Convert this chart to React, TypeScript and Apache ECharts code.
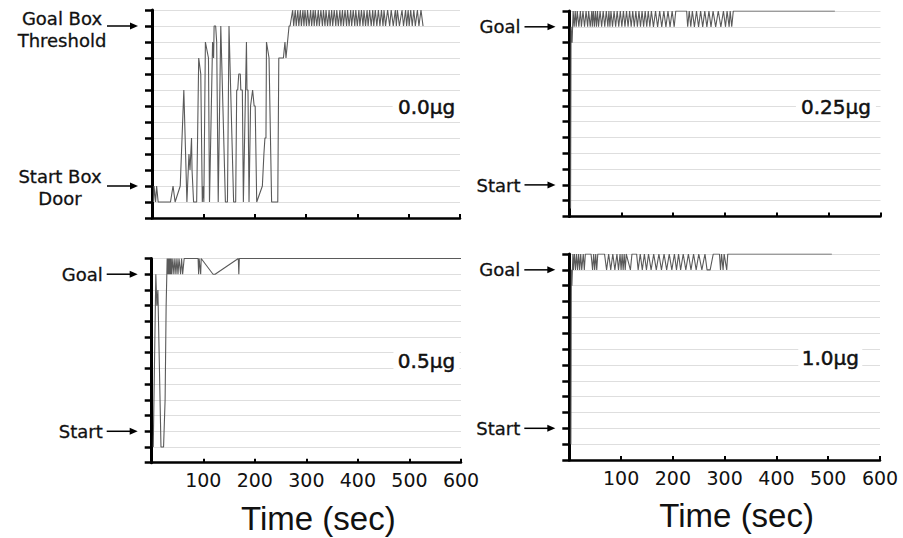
import React, { useEffect, useRef } from "react";
import * as echarts from "echarts";

// ---------- data ----------
const X_MIN = 0;
const X_MAX = 600;
const X_STEP = 100;
const Y_LEVELS = 13;
const GOAL_LEVEL = 12;
const START_LEVEL = 2;
const DOSE_LABELS = ["0.0μg", "0.25μg", "0.5μg", "1.0μg"];
const GOAL_LABELS = ["Goal Box\nThreshold", "Goal", "Goal", "Goal"];
const START_LABELS = ["Start Box\nDoor", "Start", "Start", "Start"];
const X_TITLE = "Time (sec)";

// [time (sec), position level]
const dose00: number[][] = [
  [3, 1], [4, 2], [7, 1], [9, 2], [12, 1], [36, 1], [41, 2], [45, 1], [55, 2], [62, 8],
  [68, 1], [72, 4], [74, 3], [77, 5], [78, 3], [81, 1], [87, 1], [91, 10], [95, 9], [98, 1],
  [100, 2], [101, 1], [104, 11], [110, 10], [112, 1], [118, 11], [120, 10], [121, 12], [124, 12], [126, 11],
  [129, 1], [134, 12], [143, 1], [147, 1], [150, 12], [159, 1], [163, 1], [165, 8], [167, 8], [169, 9],
  [172, 9], [173, 8], [176, 8], [178, 1], [184, 11], [185, 8], [187, 8], [189, 1], [192, 7], [196, 8],
  [199, 7], [201, 7], [204, 1], [215, 2], [218, 4], [220, 5], [222, 5], [223, 11], [228, 10], [233, 1],
  [245, 1], [247, 10], [256, 10], [259, 11], [261, 10], [264, 11], [267, 12], [269, 12], [274, 13],
  [276, 12], [279, 13], [281, 12], [284, 13], [286, 12], [289, 13], [291, 12], [294, 13], [296, 12], [298, 13],
  [301, 12], [303, 13], [306, 12], [309, 13], [311, 12], [314, 13], [316, 12], [318, 13], [321, 12], [324, 13],
  [326, 12], [329, 13], [332, 12], [334, 13], [337, 12], [339, 13], [342, 12], [345, 13], [347, 12], [350, 13],
  [352, 12], [355, 13], [358, 12], [360, 13], [363, 12], [366, 13], [368, 12], [371, 13], [373, 12], [376, 13],
  [379, 12], [381, 13], [384, 12], [387, 13], [389, 12], [392, 13], [395, 12], [397, 13], [400, 12], [403, 13],
  [405, 12], [408, 13], [411, 12], [413, 13], [416, 12], [419, 13], [421, 12], [424, 13], [427, 12], [430, 13],
  [432, 12], [435, 13], [438, 12], [441, 13], [444, 12], [447, 13], [450, 12], [452, 13], [455, 12], [459, 13],
  [463, 12], [466, 13], [470, 12], [474, 13], [476, 12], [478, 13], [482, 12], [487, 13], [490, 12], [494, 13],
  [496, 12], [499, 13], [501, 12], [504, 13], [507, 12], [510, 13], [513, 12], [517, 13], [520, 12], [524, 13],
  [528, 12],
];

const dose025: number[][] = [
  [2, 0.5], [3, 12], [5, 11], [7, 13], [9, 12], [11, 13], [13, 12], [15, 13], [18, 12], [21, 13],
  [23, 12], [26, 13], [29, 12], [32, 13], [35, 12], [37, 13], [40, 12], [43, 13], [44, 12], [46, 13],
  [48, 12], [50, 13], [52, 12], [54, 13], [56, 12], [59, 13], [62, 12], [65, 13], [68, 12], [71, 13],
  [74, 12], [76, 13], [78, 12], [80, 13], [83, 12], [86, 13], [89, 12], [92, 13], [95, 12], [98, 13],
  [101, 12], [104, 13], [107, 12], [110, 13], [113, 12], [116, 13], [119, 12], [122, 13], [125, 12], [128, 13],
  [131, 12], [134, 13], [137, 12], [140, 13], [143, 12], [146, 13], [149, 12], [152, 13], [155, 12], [158, 13],
  [162, 12], [166, 13], [170, 12], [174, 13], [178, 12], [182, 13], [186, 12], [190, 13], [194, 12], [198, 13],
  [202, 12], [205, 13], [226, 13], [228, 12], [231, 13], [234, 12], [237, 13], [241, 12], [245, 13], [249, 12],
  [253, 13], [257, 12], [261, 13], [265, 12], [269, 13], [273, 12], [277, 13], [282, 12], [287, 13], [292, 12],
  [297, 13], [301, 12], [304, 13], [308, 12], [310, 13], [313, 12], [316, 13], [512, 13],
];

const dose05: number[][] = [
  [3, 1], [8, 12], [10, 10], [12, 11], [18, 1], [23, 1], [26, 4], [28, 10], [30, 13], [31, 12],
  [32, 13], [33, 12], [34, 13], [35, 12], [36, 13], [37, 12], [38, 13], [39, 12], [41, 13], [43, 12],
  [45, 13], [47, 12], [49, 13], [51, 12], [53, 13], [56, 12], [58, 13], [60, 12], [63, 13], [90, 13],
  [91, 12], [92, 13], [95, 12], [96, 13], [97, 13], [119, 12], [123, 12], [168, 13], [169, 12], [170, 13],
  [600, 13],
];

const dose10: number[][] = [
  [3, 1], [4, 12], [5, 11], [7, 13], [8, 12], [10, 13], [12, 12], [14, 13], [16, 12], [18, 13],
  [20, 12], [22, 13], [24, 12], [27, 13], [29, 12], [31, 13], [42, 13], [45, 12], [47, 13], [49, 12],
  [51, 13], [53, 12], [55, 13], [68, 13], [72, 12], [76, 13], [80, 12], [84, 13], [88, 12], [92, 13],
  [95, 12], [98, 13], [100, 12], [102, 13], [104, 12], [106, 13], [108, 12], [110, 13], [118, 12], [121, 13],
  [130, 13], [133, 12], [137, 13], [141, 12], [145, 13], [149, 12], [153, 13], [158, 12], [163, 13], [168, 12],
  [173, 13], [178, 12], [183, 13], [188, 12], [193, 13], [198, 12], [203, 13], [207, 12], [211, 13], [215, 12],
  [220, 13], [225, 12], [230, 13], [235, 12], [240, 13], [245, 12], [250, 13], [256, 12], [262, 13], [266, 12],
  [272, 12], [278, 13], [290, 13], [292, 12], [294, 13], [297, 12], [299, 13], [304, 12], [306, 13], [507, 13],
];

const SERIES_DATA = [dose00, dose025, dose05, dose10];

// ---------- layout ----------
const GRIDS = [
  { left: 152, top: 10, width: 308, height: 208 },
  { left: 569.5, top: 11, width: 311, height: 205.5 },
  { left: 151.7, top: 258.5, width: 309.3, height: 204.2 },
  { left: 569.3, top: 254, width: 310.7, height: 206 },
];
const DOSE_POS = [[535, 6.94], [514, 6.9], [533, 6.5], [504, 6.45]];
const DOSE_BOX_W = [68, 80, 66, 64];
const SHOW_X_LABELS = [false, false, true, true];

const LINE_COLOR = "#5a5a5a";
const GRID_COLOR = "#dedede";
const TEXT_FONT = "DejaVu Sans";

export default function App() {
  const ref = useRef<HTMLDivElement>(null);
  useEffect(() => {
    if (!ref.current) return;
    const chart = echarts.init(ref.current, null, { renderer: "svg" });
    const option: any = {
      animation: false,
      backgroundColor: "#fff",
      grid: GRIDS.map((g) => ({ ...g, containLabel: false })),
      xAxis: GRIDS.map((_, i) => ({
        type: "value",
        gridIndex: i,
        min: X_MIN,
        max: X_MAX,
        interval: X_STEP,
        axisLine: { show: true, lineStyle: { color: "#000", width: 2.5 } },
        axisTick: { show: true, inside: true, length: 4, lineStyle: { color: "#000", width: 2 } },
        axisLabel: {
          show: SHOW_X_LABELS[i],
          margin: 8,
          fontFamily: TEXT_FONT,
          fontSize: 19,
          color: "#111",
          formatter: (v: number) => (v === 0 ? "" : String(v)),
        },
        splitLine: { show: false },
        name: SHOW_X_LABELS[i] ? X_TITLE : "",
        nameLocation: "middle",
        nameGap: 39,
        nameTextStyle: {
          fontFamily: "Liberation Sans",
          fontSize: 33,
          color: "#111",
          padding: [0, 0, 0, 24],
        },
      })),
      yAxis: GRIDS.map((_, i) => ({
        type: "value",
        gridIndex: i,
        min: 0,
        max: Y_LEVELS,
        interval: 1,
        axisLine: { show: true, lineStyle: { color: "#000", width: 3 } },
        axisTick: { show: true, inside: false, length: 7, lineStyle: { color: "#000", width: 2.5 } },
        axisLabel: { show: false },
        splitLine: { show: true, lineStyle: { color: GRID_COLOR, width: 1 } },
      })),
      series: SERIES_DATA.map((d, i) => ({
        type: "line",
        xAxisIndex: i,
        yAxisIndex: i,
        data: d,
        showSymbol: false,
        symbol: "none",
        lineStyle: { color: LINE_COLOR, width: 1.1 },
        z: 3,
      })),
    };
    chart.setOption(option);

    const graphics: any[] = [];
    for (let i = 0; i < 4; i++) {
      const gp = chart.convertToPixel({ gridIndex: i }, [0, GOAL_LEVEL]) as number[];
      const sp = chart.convertToPixel({ gridIndex: i }, [0, START_LEVEL]) as number[];
      const ax = gp[0];
      const multi = i === 0;
      const rows = [
        { y: gp[1], text: GOAL_LABELS[i], dy: multi ? 3.5 : 0, cx: -90 },
        { y: sp[1], text: START_LABELS[i], dy: multi ? 1 : 0.5, cx: -92 },
      ];
      rows.forEach((r) => {
        graphics.push({
          type: "text",
          x: multi ? ax + r.cx : ax - 49,
          y: r.y + r.dy,
          z: 100,
          silent: true,
          style: {
            text: r.text,
            fill: "#111",
            fontFamily: TEXT_FONT,
            fontSize: 18,
            lineHeight: 22,
            align: multi ? "center" : "right",
            verticalAlign: "middle",
            stroke: "#111",
            lineWidth: 0.3,
          },
        });
        graphics.push({
          type: "line",
          z: 100,
          silent: true,
          shape: { x1: ax - 45, y1: r.y, x2: ax - 20, y2: r.y },
          style: { stroke: "#000", lineWidth: 1.5 },
        });
        graphics.push({
          type: "polygon",
          z: 100,
          silent: true,
          shape: { points: [[ax - 14, r.y], [ax - 22, r.y - 3.5], [ax - 22, r.y + 3.5]] },
          style: { fill: "#000" },
        });
      });
      const dp = chart.convertToPixel({ gridIndex: i }, DOSE_POS[i]) as number[];
      graphics.push({
        type: "rect",
        z: 100,
        silent: true,
        shape: { x: dp[0] - DOSE_BOX_W[i] / 2, y: dp[1] - 12, width: DOSE_BOX_W[i], height: 24 },
        style: { fill: "#fff" },
      });
      graphics.push({
        type: "text",
        x: dp[0],
        y: dp[1],
        z: 101,
        silent: true,
        style: {
          text: DOSE_LABELS[i],
          fill: "#111",
          fontFamily: TEXT_FONT,
          fontSize: 20,
          align: "center",
          verticalAlign: "middle",
          stroke: "#111",
          lineWidth: 0.5,
        },
      });
    }
    chart.setOption({ graphic: graphics });
    return () => chart.dispose();
  }, []);
  return (
    <div
      ref={ref}
      style={{ position: "fixed", left: 0, top: 0, width: 903, height: 538, background: "#fff" }}
    />
  );
}
